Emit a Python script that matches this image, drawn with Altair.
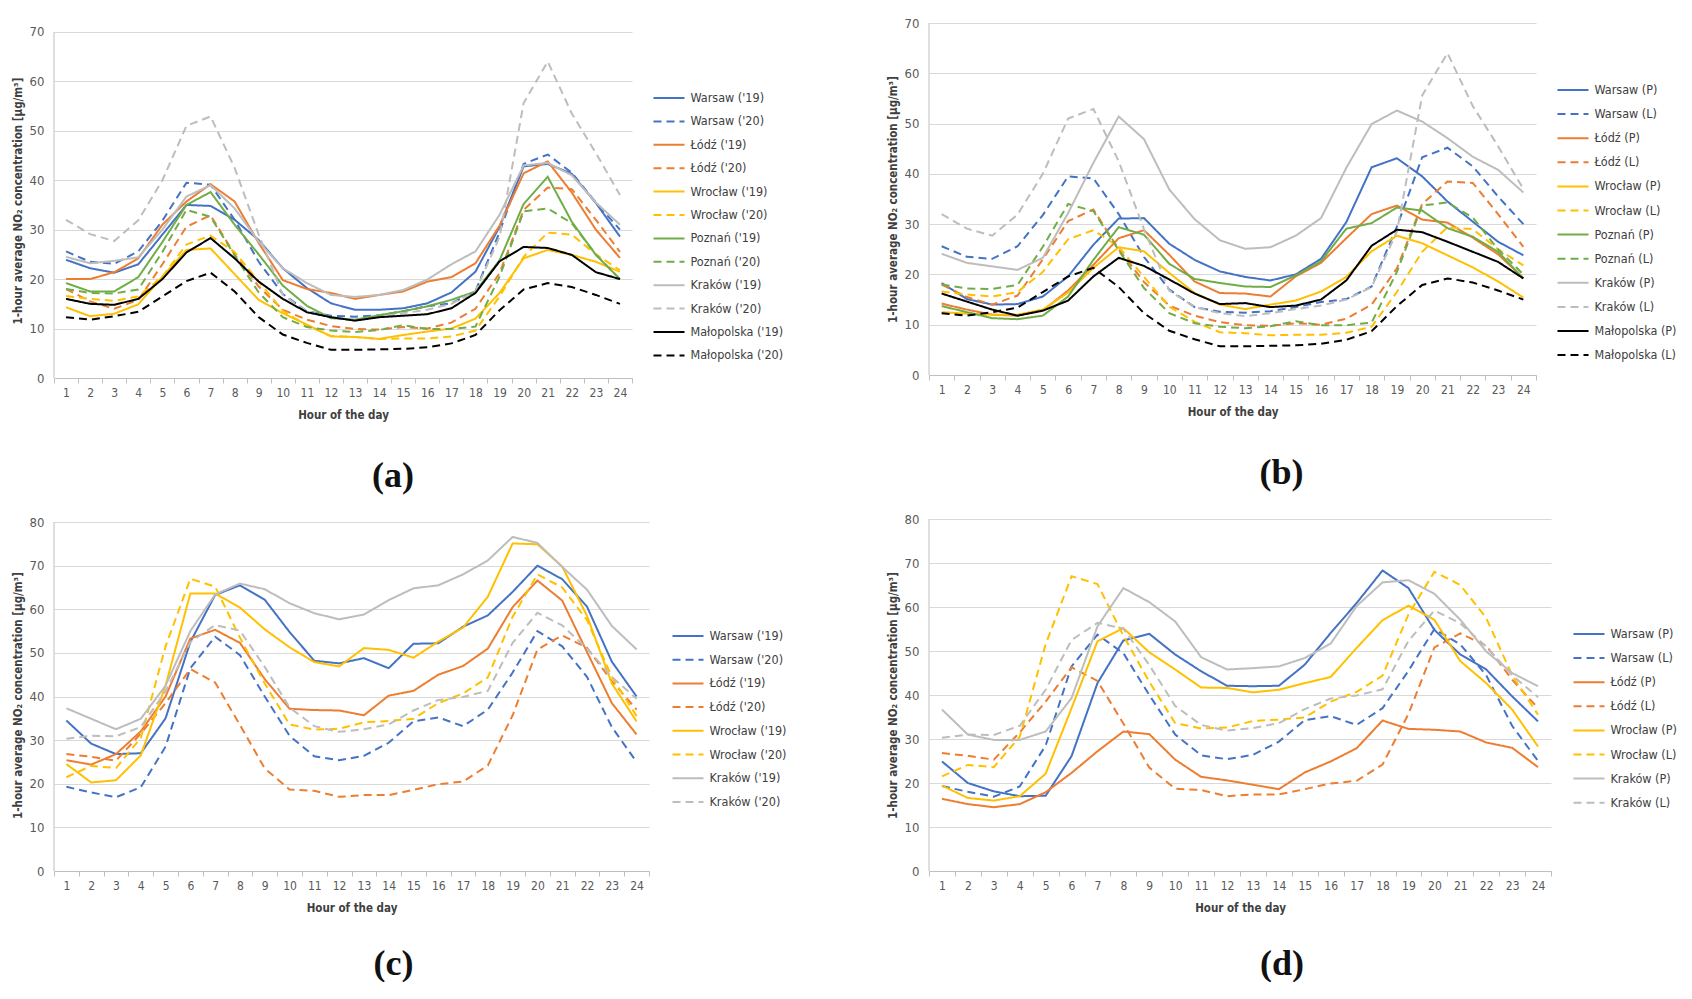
import altair as alt
import pandas as pd

hours = list(range(1, 25))

# ---------- panel (a) / (b) dashed series ----------
warsaw_19 = [23.9, 22.2, 21.3, 23.0, 29.0, 35.0, 34.8, 32.0, 27.9, 22.2, 18.2, 15.1, 13.8, 13.8, 14.1, 15.1, 17.3, 21.5, 30.6, 42.8, 43.3, 41.3, 35.4, 28.6]
warsaw_20 = [25.6, 23.5, 23.1, 25.6, 31.8, 39.5, 39.1, 32.0, 23.5, 17.0, 13.5, 12.6, 12.4, 12.7, 13.5, 14.5, 15.1, 17.6, 29.5, 43.3, 45.2, 41.5, 35.5, 30.0]
lodz_19 = [20.0, 20.0, 21.4, 24.2, 31.0, 35.7, 39.2, 35.7, 27.3, 19.8, 18.0, 17.2, 16.0, 16.8, 17.5, 19.5, 20.4, 23.2, 30.8, 41.4, 43.8, 37.5, 30.0, 24.3]
lodz_20 = [18.0, 15.5, 14.0, 15.8, 23.0, 30.6, 32.9, 25.0, 18.5, 13.8, 11.8, 10.5, 9.9, 9.8, 10.3, 10.0, 11.2, 14.0, 21.2, 34.0, 38.5, 38.2, 32.0, 25.5]
wroclaw_19 = [14.3, 12.5, 13.0, 14.9, 20.5, 25.9, 26.2, 21.0, 15.8, 13.1, 10.8, 8.4, 8.3, 7.9, 8.7, 9.4, 10.0, 12.0, 17.2, 24.2, 25.9, 24.9, 23.5, 21.5]
wroclaw_20 = [16.6, 16.0, 15.6, 16.5, 20.5, 27.0, 28.8, 25.5, 19.5, 13.6, 10.6, 8.5, 8.3, 7.9, 8.0, 8.0, 8.4, 9.6, 16.5, 24.5, 29.4, 29.0, 25.0, 21.8]
poznan_19 = [19.2, 17.5, 17.5, 20.4, 27.5, 35.0, 37.6, 31.0, 25.0, 18.7, 14.6, 12.1, 11.8, 12.7, 13.5, 14.5, 15.8, 17.5, 23.8, 35.2, 40.7, 31.6, 24.9, 20.0]
poznan_20 = [18.0, 17.2, 17.1, 17.9, 25.5, 34.0, 32.6, 24.8, 17.3, 12.3, 10.3, 9.6, 9.3, 9.7, 10.7, 9.9, 9.9, 10.4, 20.5, 33.7, 34.3, 31.3, 25.0, 20.0]
krakow_19 = [24.5, 23.2, 23.7, 24.4, 30.0, 36.7, 39.0, 34.3, 27.6, 22.2, 19.2, 16.8, 16.4, 16.8, 17.8, 19.9, 23.0, 25.6, 33.0, 43.0, 43.5, 41.0, 35.5, 31.0]
krakow_20 = [32.0, 29.1, 27.7, 31.9, 40.0, 51.0, 52.9, 42.5, 29.0, 16.8, 13.5, 12.3, 11.7, 12.3, 13.1, 13.8, 15.0, 17.5, 28.5, 55.6, 64.0, 53.5, 45.5, 37.0]
malopolska_19 = [16.0, 15.0, 14.8, 16.0, 20.0, 25.4, 28.3, 24.2, 19.5, 16.0, 13.3, 12.3, 11.6, 12.3, 12.6, 12.9, 14.1, 17.2, 23.6, 26.5, 26.3, 24.9, 21.4, 20.0]
malopolska_20 = [12.3, 11.8, 12.5, 13.4, 16.5, 19.6, 21.3, 17.5, 12.3, 8.8, 7.1, 5.7, 5.7, 5.8, 5.9, 6.2, 7.0, 8.7, 13.7, 17.9, 19.2, 18.4, 16.8, 15.0]

# ---------- panel (b) solid series ----------
warsaw_p_b = [18.3, 15.1, 14.0, 14.1, 15.6, 19.6, 25.9, 31.1, 31.2, 26.1, 22.9, 20.6, 19.5, 18.8, 20.0, 23.1, 30.4, 41.3, 43.1, 39.5, 34.5, 30.5, 26.5, 23.8]
lodz_p_b = [14.2, 13.0, 12.0, 11.8, 12.8, 16.8, 21.9, 27.2, 28.8, 23.9, 18.6, 16.3, 16.2, 15.6, 19.6, 22.3, 27.2, 32.0, 33.7, 30.9, 30.3, 27.3, 24.0, 19.3]
wroclaw_p_b = [12.5, 12.2, 12.0, 12.0, 13.0, 16.4, 21.3, 25.4, 24.6, 20.3, 16.3, 14.0, 13.1, 14.0, 14.8, 16.6, 19.5, 24.6, 27.7, 26.2, 23.8, 21.4, 18.6, 15.4]
poznan_p_b = [13.7, 12.5, 11.3, 11.1, 11.8, 15.6, 22.9, 29.4, 27.9, 22.1, 19.1, 18.3, 17.6, 17.5, 19.8, 22.6, 29.1, 30.2, 33.3, 32.7, 29.2, 27.5, 24.5, 19.2]
krakow_p_b = [24.1, 22.3, 21.6, 20.9, 23.3, 32.2, 42.2, 51.4, 46.9, 36.9, 31.0, 26.8, 25.1, 25.4, 27.7, 31.2, 41.2, 49.9, 52.6, 50.4, 47.1, 43.4, 40.8, 36.3]
malopolska_p_b = [16.2, 14.6, 13.0, 11.8, 12.8, 14.8, 19.6, 23.3, 21.7, 19.0, 16.2, 14.1, 14.3, 13.5, 13.8, 15.0, 18.8, 25.7, 28.9, 28.4, 26.5, 24.5, 22.5, 19.2]

# ---------- panel (c) / (d) dashed series ----------
warsaw_19c = [34.5, 29.2, 26.8, 27.0, 35.0, 52.5, 63.3, 65.5, 62.2, 54.8, 48.2, 47.6, 48.8, 46.5, 52.1, 52.2, 56.0, 58.6, 64.0, 70.0, 66.9, 60.6, 48.0, 40.0]
warsaw_20c = [19.3, 18.0, 16.9, 19.2, 28.5, 46.5, 53.7, 49.5, 40.0, 31.0, 26.3, 25.4, 26.4, 29.4, 34.3, 35.2, 33.2, 37.0, 45.5, 55.0, 51.5, 44.5, 33.0, 25.0]
lodz_19c = [25.4, 24.4, 26.8, 32.0, 40.0, 53.3, 55.3, 52.3, 44.0, 37.2, 36.9, 36.8, 35.7, 40.2, 41.3, 45.0, 47.0, 51.0, 60.5, 66.6, 62.0, 50.2, 38.5, 31.3]
lodz_20c = [26.8, 26.2, 25.3, 31.5, 38.5, 46.3, 43.2, 33.5, 23.5, 18.7, 18.4, 17.0, 17.4, 17.4, 18.6, 19.9, 20.5, 24.2, 35.7, 50.8, 54.0, 51.2, 43.5, 37.0]
wroclaw_19c = [24.5, 20.3, 20.8, 26.5, 42.5, 63.6, 63.6, 60.4, 55.4, 51.3, 47.9, 46.9, 51.1, 50.7, 48.9, 52.6, 55.8, 62.9, 75.1, 74.9, 69.8, 58.5, 43.0, 34.3]
wroclaw_20c = [21.5, 24.1, 23.6, 30.5, 51.5, 67.0, 65.2, 53.5, 43.0, 33.6, 32.4, 32.6, 34.1, 34.4, 34.9, 38.5, 40.7, 44.4, 58.3, 68.0, 65.0, 57.5, 44.5, 35.5]
krakow_19c = [37.3, 34.9, 32.5, 34.9, 42.5, 55.0, 63.4, 65.9, 64.6, 61.4, 59.1, 57.7, 58.8, 62.1, 64.8, 65.5, 68.0, 71.2, 76.6, 75.2, 69.7, 64.5, 56.2, 50.8]
krakow_20c = [30.3, 31.0, 30.9, 33.0, 41.2, 52.5, 56.4, 55.1, 46.8, 37.5, 33.2, 31.9, 32.5, 33.6, 36.8, 39.2, 39.9, 41.3, 52.3, 59.2, 56.3, 51.0, 44.5, 39.5]

# ---------- panel (d) solid series ----------
warsaw_p_d = [24.9, 20.0, 18.1, 17.0, 17.1, 26.1, 42.7, 52.4, 53.9, 49.2, 45.4, 42.1, 42.0, 42.1, 46.9, 54.1, 60.9, 68.3, 64.3, 54.8, 49.2, 45.8, 39.7, 34.0]
lodz_p_d = [16.4, 15.2, 14.5, 15.2, 17.9, 22.3, 27.2, 31.7, 31.1, 25.3, 21.4, 20.6, 19.6, 18.6, 22.4, 24.9, 27.9, 34.2, 32.3, 32.1, 31.7, 29.2, 28.0, 23.6]
wroclaw_p_d = [19.4, 16.6, 16.0, 17.0, 22.1, 37.0, 52.2, 55.2, 49.7, 45.8, 41.7, 41.6, 40.6, 41.2, 42.7, 44.1, 50.7, 57.0, 60.3, 57.1, 47.7, 42.7, 36.7, 28.3]
krakow_p_d = [36.7, 31.0, 29.8, 29.8, 31.7, 39.3, 55.6, 64.3, 61.1, 56.7, 48.6, 45.8, 46.1, 46.5, 48.4, 51.7, 60.2, 65.6, 66.1, 63.0, 57.1, 49.9, 45.0, 42.0]

names_a = ["Warsaw ('19)", "Warsaw ('20)", "Łódź ('19)", "Łódź ('20)", "Wrocław ('19)", "Wrocław ('20)",
           "Poznań ('19)", "Poznań ('20)", "Kraków ('19)", "Kraków ('20)", "Małopolska ('19)", "Małopolska ('20)"]
names_b = ["Warsaw (P)", "Warsaw (L)", "Łódź (P)", "Łódź (L)", "Wrocław (P)", "Wrocław (L)",
           "Poznań (P)", "Poznań (L)", "Kraków (P)", "Kraków (L)", "Małopolska (P)", "Małopolska (L)"]
names_c = names_a[:6] + names_a[8:10]
names_d = names_b[:6] + names_b[8:10]

series_a = [warsaw_19, warsaw_20, lodz_19, lodz_20, wroclaw_19, wroclaw_20,
            poznan_19, poznan_20, krakow_19, krakow_20, malopolska_19, malopolska_20]
series_b = [warsaw_p_b, warsaw_20, lodz_p_b, lodz_20, wroclaw_p_b, wroclaw_20,
            poznan_p_b, poznan_20, krakow_p_b, krakow_20, malopolska_p_b, malopolska_20]
series_c = [warsaw_19c, warsaw_20c, lodz_19c, lodz_20c, wroclaw_19c, wroclaw_20c, krakow_19c, krakow_20c]
series_d = [warsaw_p_d, warsaw_20c, lodz_p_d, lodz_20c, wroclaw_p_d, wroclaw_20c, krakow_p_d, krakow_20c]

BLUE, ORANGE, YELLOW, GREEN, GRAY, BLACK = "#4472C4", "#ED7D31", "#FFC000", "#70AD47", "#BDBDBD", "#000000"
colors12 = [BLUE, BLUE, ORANGE, ORANGE, YELLOW, YELLOW, GREEN, GREEN, GRAY, GRAY, BLACK, BLACK]
colors8 = [BLUE, BLUE, ORANGE, ORANGE, YELLOW, YELLOW, GRAY, GRAY]
SOLID, DASH = [1, 0], [8, 5]
dashes12 = [SOLID, DASH] * 6
dashes8 = [SOLID, DASH] * 4

FONT = "Liberation Sans Narrow, DejaVu Sans Condensed, Roboto, sans-serif"
SERIF = "Liberation Serif, DejaVu Serif, serif"
YTITLE = "1-hour average NO\u2082 concentration [\u00b5g/m\u00b3]"
SYM_LEN = 31                       # legend line-sample length
LEG_ENTRY_H = (SYM_LEN + 2) / 2 + 6.25 + 0.25   # entry box height used by legend layout


def long_df(names, series):
    rows = []
    for n, vals in zip(names, series):
        for h, v in zip(hours, vals):
            rows.append({"hour": h, "series": n, "value": v})
    return pd.DataFrame(rows)


def panel(names, series, colors, dashes, ytop, ydom, width, height, caption, cap_dx, cap_off,
          lx, ly, step):
    df = long_df(names, series)
    leg = alt.Legend(orient="none", legendX=lx, legendY=ly, direction="vertical",
                     symbolType="stroke", symbolSize=SYM_LEN * SYM_LEN, symbolStrokeWidth=2,
                     labelFont=FONT, labelFontSize=12.5, labelColor="#404040",
                     rowPadding=max(step - LEG_ENTRY_H, 0), padding=0, labelOffset=5, labelLimit=300)
    lines = alt.Chart(df).mark_line(strokeWidth=2).encode(
        x=alt.X("hour:O", bandPosition=0.5,
                scale=alt.Scale(type="band", paddingInner=0, paddingOuter=0),
                axis=alt.Axis(tickBand="extent", ticks=True, tickSize=5, tickColor="#bfbfbf",
                              domainColor="#bfbfbf", labelAngle=0, labelFont=FONT,
                              labelFontSize=12, labelColor="#595959", labelPadding=4,
                              titleFont=FONT, titleFontSize=11.5, titleFontWeight="bold",
                              titleColor="#404040", titlePadding=11, grid=False),
                title="Hour of the day"),
        y=alt.Y("value:Q", scale=alt.Scale(domain=[0, ydom], nice=False),
                axis=alt.Axis(values=list(range(0, ytop + 1, 10)), domain=False, ticks=False,
                              grid=True, gridColor="#d9d9d9", gridWidth=1.2,
                              labelFont=FONT, labelFontSize=13, labelColor="#595959",
                              labelPadding=10, titleFont=FONT, titleFontSize=11.5,
                              titleFontWeight="bold", titleColor="#404040", titlePadding=6),
                title=YTITLE),
        color=alt.Color("series:N", scale=alt.Scale(domain=names, range=colors), legend=leg, title=None),
        strokeDash=alt.StrokeDash("series:N", scale=alt.Scale(domain=names, range=dashes), legend=leg, title=None),
    )
    axis_line = alt.Chart(pd.DataFrame({"k": [0]})).mark_rule(color="#bfbfbf", strokeWidth=1).encode(
        x=alt.value(0), y=alt.datum(0), y2=alt.datum(ytop)
    )
    return alt.layer(lines, axis_line).properties(
        width=width, height=height,
        title=alt.TitleParams(text=caption, orient="bottom", anchor="middle", frame="group",
                              font=SERIF, fontSize=36, fontWeight="bold", color="#111111",
                              offset=cap_off, dx=cap_dx),
    )


pa = panel(names_a, series_a, colors12, dashes12, 70, 71.8, 578, 355, "(a)", 50, 38, 598.5, 58.5, 23.4)
pb = panel(names_b, series_b, colors12, dashes12, 70, 70, 607, 352, "(b)", 49, 38, 627.5, 50.5, 24.1)
pc = panel(names_c, series_c, colors8, dashes8, 80, 80.7, 595, 352, "(c)", 42, 33, 617.5, 100.5, 23.7)
pdd = panel(names_d, series_d, colors8, dashes8, 80, 80, 622, 352, "(d)", 42, 33, 643.5, 98.5, 24.1)

chart = alt.concat(pa, pb, pc, pdd, columns=2, spacing={"row": 141, "column": 280}, bounds="flush").resolve_scale(
    color="independent", strokeDash="independent", x="independent", y="independent"
).resolve_legend(color="independent", strokeDash="independent").configure_view(
    stroke="transparent"
).properties(padding={"left": 3, "top": 8, "right": 5, "bottom": 0}, background="white")

chart.save("out.html", embed_options={"renderer": "svg", "actions": False})
